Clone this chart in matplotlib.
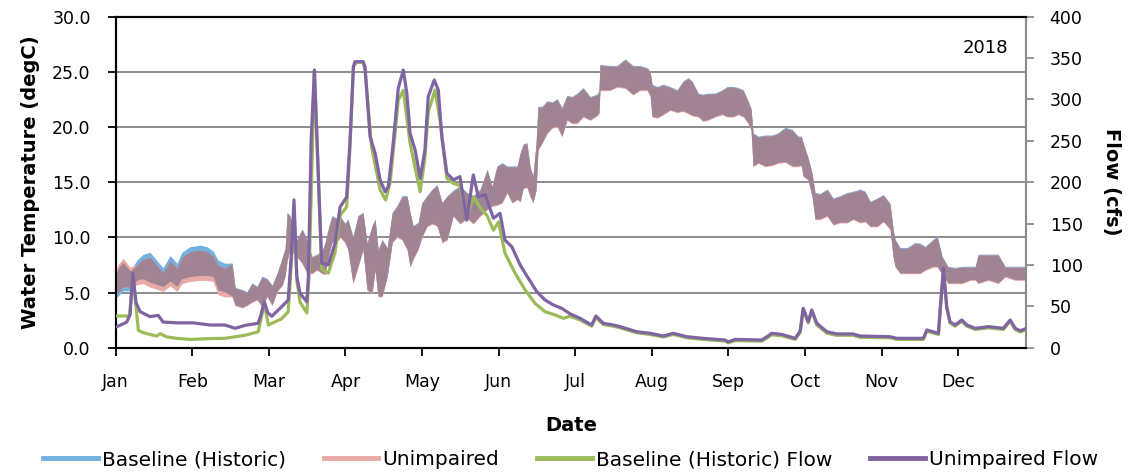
import numpy as np
import matplotlib
matplotlib.use("Agg")
import matplotlib.pyplot as plt
from matplotlib.lines import Line2D

# ---------------- data ----------------
months = ["Jan", "Feb", "Mar", "Apr", "May", "Jun", "Jul", "Aug", "Sep", "Oct", "Nov", "Dec"]
year_label = "2018"

# water temperature envelope (daily max / min of Unimpaired), day of year
temp_day = [0, 0.9, 2.9, 5.7, 8.5, 10.8, 13.6, 18.8, 21.6, 24.3,
            26.3, 29.5, 33.5, 36.3, 38.7, 40.6, 43.4, 46.2, 47.4, 50.2,
            52.1, 54.1, 56.1, 58.1, 60.1, 62.1, 64.1, 66.1, 67.3, 68.1,
            69.2, 72.0, 74.0, 76.0, 77.9, 79.9, 81.9, 83.1, 84.7, 85.9,
            88.3, 89.1, 91.0, 92.2, 94.2, 96.2, 98.2, 99.8, 101.8, 103.0,
            104.2, 105.8, 107.8, 109.8, 111.7, 113.7, 115.7, 116.9, 118.1, 120.1,
            121.6, 123.6, 125.6, 127.6, 129.6, 131.6, 134.0, 136.7, 139.5, 141.9,
            144.7, 147.5, 149.4, 151.4, 153.4, 155.4, 157.4, 159.4, 160.6, 161.8,
            163.3, 164.5, 165.7, 166.9, 167.7, 169.3, 171.3, 173.3, 175.3, 177.2,
            179.2, 181.2, 183.2, 185.6, 188.4, 191.1, 191.9, 192.3, 196.3, 199.1,
            202.3, 205.4, 208.2, 211.0, 212.2, 213.0, 215.0, 217.4, 220.1, 222.9,
            225.3, 227.3, 228.9, 231.3, 233.2, 235.2, 238.0, 240.8, 242.8, 245.2,
            247.2, 249.2, 251.1, 252.3, 253.1, 255.1, 257.9, 260.6, 263.0, 265.8,
            268.6, 271.0, 272.2, 273.0, 274.9, 276.5, 277.7, 279.7, 282.5, 284.9,
            287.6, 290.4, 292.8, 295.6, 297.6, 299.6, 302.4, 304.8, 307.5, 308.7,
            309.5, 311.5, 314.3, 317.4, 319.4, 321.4, 324.6, 326.2, 328.2, 330.5,
            333.3, 336.1, 339.3, 341.3, 342.5, 346.5, 350.4, 353.2, 357.2, 361.5]
temp_hi = [7.0, 7.5, 8.1, 7.3, 7.5, 8.0, 8.2, 6.8, 7.9, 7.2,
           8.2, 8.7, 8.85, 8.7, 8.3, 7.5, 7.2, 7.6, 5.4, 5.2,
           5.0, 5.8, 5.5, 6.4, 6.2, 5.6, 6.7, 8.1, 9.0, 12.2,
           11.9, 9.75, 10.7, 9.75, 8.2, 8.4, 8.7, 9.45, 11.0, 11.9,
           11.6, 11.9, 11.2, 11.6, 10.0, 11.9, 12.2, 9.45, 11.0, 11.6,
           8.85, 9.75, 9.0, 12.2, 12.8, 13.7, 13.7, 12.2, 11.0, 11.3,
           13.1, 13.7, 14.3, 14.7, 13.1, 13.7, 14.2, 14.6, 14.0, 13.7,
           14.3, 16.1, 14.6, 16.4, 16.7, 16.4, 16.4, 16.4, 17.6, 18.4,
           18.5, 16.4, 15.5, 18.4, 21.8, 21.8, 22.3, 22.2, 22.5, 21.7,
           22.8, 22.7, 23.0, 23.5, 22.7, 22.9, 23.2, 25.6, 25.5, 25.5,
           26.1, 25.5, 25.5, 25.3, 25.0, 23.8, 23.6, 23.8, 23.6, 23.3,
           24.1, 24.4, 24.1, 23.0, 22.9, 23.0, 23.0, 23.3, 23.6, 23.6,
           23.5, 23.3, 22.3, 21.6, 19.4, 19.1, 19.2, 19.2, 19.4, 19.9,
           19.7, 19.1, 19.1, 18.5, 17.2, 15.8, 14.0, 13.9, 14.3, 13.5,
           13.7, 14.0, 14.1, 14.3, 14.1, 13.2, 13.5, 13.8, 13.0, 10.7,
           9.75, 9.0, 9.0, 9.45, 9.4, 9.1, 9.75, 10.05, 8.2, 7.3,
           7.2, 7.3, 7.3, 7.3, 8.4, 8.4, 8.4, 7.3, 7.3, 7.3]
temp_lo = [4.9, 5.0, 5.5, 5.5, 5.7, 5.8, 5.5, 5.1, 5.6, 5.1,
           5.8, 6.0, 6.1, 6.1, 6.0, 4.8, 4.6, 4.6, 3.8, 3.6,
           3.8, 4.1, 4.3, 3.7, 4.6, 3.8, 5.1, 5.6, 6.5, 7.9,
           8.85, 8.2, 7.6, 6.7, 6.7, 7.0, 6.7, 6.6, 8.5, 9.5,
           9.7, 10.0, 9.5, 8.85, 5.8, 7.3, 8.85, 5.2, 4.9, 7.0,
           4.6, 4.6, 6.4, 9.5, 10.0, 9.75, 8.85, 7.3, 8.0, 8.9,
           10.0, 10.95, 11.2, 11.0, 9.5, 9.75, 11.9, 11.2, 11.7, 11.2,
           11.9, 12.5, 12.8, 12.9, 13.1, 14.0, 13.1, 13.4, 13.2, 14.4,
           14.5, 13.7, 13.1, 14.2, 17.9, 18.5, 19.4, 19.9, 20.0, 19.1,
           20.6, 20.3, 20.3, 20.9, 20.6, 21.0, 21.2, 23.3, 23.3, 23.6,
           23.5, 22.9, 23.3, 23.3, 22.8, 20.9, 20.8, 21.1, 21.5, 21.3,
           21.4, 21.2, 21.0, 20.9, 20.5, 20.6, 20.9, 21.1, 20.9, 20.9,
           21.1, 20.9, 20.3, 19.7, 16.4, 16.7, 16.4, 16.5, 16.7, 16.8,
           16.4, 16.4, 16.5, 15.5, 15.2, 13.7, 11.6, 11.6, 11.9, 11.1,
           11.3, 11.3, 11.6, 11.3, 11.4, 10.95, 10.95, 11.4, 10.7, 8.2,
           7.3, 6.7, 6.7, 6.7, 6.7, 7.0, 7.3, 7.3, 6.6, 5.8,
           5.8, 5.8, 6.1, 6.1, 5.8, 6.1, 5.8, 6.4, 6.1, 6.1]
# Baseline minus Unimpaired temperature offset by season (day breaks)
base_offset_breaks = [6, 46]
base_offset_vals = [-0.35, 0.45, 0.08]

# Unimpaired flow (cfs)
unimp_flow_day = [0, 1.7, 4.4, 5.7, 6.8, 8.1, 9.7, 13.6, 16.9, 18.8,
                  24.2, 30.7, 37.5, 43.4, 47.4, 51.4, 56.6, 57.7, 59.0, 60.4,
                  62.0, 65.9, 68.5, 69.9, 70.8, 71.9, 73.2, 75.9, 76.5, 77.6,
                  78.9, 80.5, 81.8, 84.4, 87.1, 89.1, 91.7, 93.0, 94.4, 95.0,
                  98.3, 99.0, 101.0, 103.0, 105.0, 107.0, 108.3, 110.2, 112.2, 114.2,
                  115.6, 116.9, 118.9, 120.9, 122.8, 124.1, 126.5, 128.1, 129.5, 131.5,
                  134.1, 136.7, 139.4, 142.0, 144.0, 146.7, 150.0, 152.6, 154.6, 157.3,
                  160.6, 162.6, 167.2, 170.5, 173.8, 177.1, 180.4, 184.4, 189.0, 190.7,
                  193.6, 197.6, 200.3, 206.9, 212.2, 217.5, 221.4, 226.8, 233.2, 242.0,
                  243.2, 246.0, 256.6, 259.0, 260.5, 264.5, 269.8, 271.8, 273.0, 275.0,
                  276.4, 278.4, 282.4, 286.3, 292.8, 295.6, 307.5, 310.2, 320.7, 322.1,
                  324.2, 326.7, 327.5, 328.7, 330.0, 331.3, 333.3, 336.0, 338.0, 341.3,
                  346.6, 352.5, 355.2, 357.2, 359.2, 361.8]
unimp_flow = [25, 27, 31, 40, 90, 54, 43.5, 37.5, 39, 31,
              30, 30, 27.4, 27.4, 23.4, 27, 29.5, 40, 55.6, 42,
              38, 49.5, 57.6, 120, 178.5, 85.8, 65.7, 55.6, 85, 250,
              335.6, 206.6, 102, 100, 126, 170, 182, 247, 339.6, 345.6,
              345.6, 339.6, 255, 235, 202.7, 188.5, 195, 247, 313.5, 335.6,
              307.4, 259, 239, 204.7, 239, 303.4, 323.5, 311.4, 255, 210.8,
              202.7, 206.7, 154, 208.7, 182.5, 185, 156.4, 162.4, 130, 122,
              100, 90, 67.7, 57.6, 51.6, 47.6, 41, 35.5, 27.4, 38.3,
              29.5, 27.4, 25.4, 19.3, 17.4, 14.1, 17.4, 13.3, 11.3, 9.3,
              7, 10, 9.3, 14, 17.4, 16, 11.3, 20, 47.6, 31.4,
              45.6, 29.5, 19.3, 16.6, 16.6, 14.1, 13.3, 11.3, 11.3, 21.4,
              19.5, 17.4, 50, 96, 49.5, 31.4, 27.4, 33.5, 27.4, 23.4,
              25.4, 23.4, 33.5, 23.4, 20.5, 23.4]

# Baseline (Historic) flow (cfs)
base_flow_day = [0, 5.5, 6.8, 9.0, 11.0, 16.3, 17.6, 20.3, 24.2, 29.5,
                 37.5, 43.4, 51.4, 56.6, 59.0, 60.6, 65.9, 68.5, 69.9, 70.8,
                 72.0, 73.2, 75.9, 76.8, 78.9, 80.5, 81.8, 84.4, 87.1, 89.1,
                 91.7, 93.0, 94.4, 95.7, 98.3, 99.0, 101.6, 105.0, 107.2, 109.0,
                 112.2, 114.2, 116.9, 120.9, 122.8, 124.1, 126.8, 128.8, 131.5, 134.1,
                 136.7, 139.4, 142.0, 145.4, 147.4, 150.0, 152.0, 154.6, 158.6, 162.6,
                 166.5, 170.5, 174.5, 177.8, 180.4, 184.4, 189.0, 190.7, 193.6, 197.6,
                 200.3, 206.9, 212.2, 217.5, 221.4, 226.8, 233.2, 242.0, 243.2, 246.0,
                 256.6, 259.0, 260.5, 264.5, 269.8, 271.8, 273.0, 275.0, 276.4, 278.4,
                 282.4, 286.3, 292.8, 295.6, 307.5, 310.2, 320.7, 322.1, 324.2, 326.7,
                 327.5, 328.7, 330.0, 331.3, 333.3, 336.0, 338.0, 341.3, 346.6, 352.5,
                 355.2, 357.2, 359.2, 361.8]
base_flow = [38.3, 38.3, 88, 21, 18, 14, 17, 13, 11.3, 10,
             11, 11.3, 15, 19.3, 53.6, 27.4, 35, 43.5, 110, 170,
             80, 55, 42, 90, 335, 200, 95, 90, 115, 160,
             170, 240, 340, 345, 345, 335, 243, 190.6, 178.5, 200,
             299, 311, 247, 188.5, 230, 285, 311.4, 275, 204.7, 198.6,
             196, 158, 182.5, 166.4, 160, 142, 152, 114, 90, 69.7,
             53.6, 43.5, 39.5, 35.5, 38, 33.5, 26, 36.5, 28, 26,
             24, 18, 16, 13, 16, 12, 10, 8, 6, 8.5,
             8, 12.5, 15.5, 14.5, 10, 18.5, 46, 30, 44, 27.5,
             17.5, 15, 15, 12.5, 12, 10, 10, 20, 18, 16,
             48, 94, 48, 30, 26, 32, 26, 22, 24, 22,
             32, 22, 19, 22]

assert len(temp_day) == len(temp_hi) == len(temp_lo)
assert len(unimp_flow_day) == len(unimp_flow)
assert len(base_flow_day) == len(base_flow)

# ---------------- styling ----------------
c_blue = "#72B1E0"
c_pink = "#E9A9A5"
c_mauve = "#A08494"
c_green = "#9BBB59"
c_purple = "#8064A2"
grid_c = "#8C8C8C"

plt.rcParams["font.family"] = ["DejaVu Sans"]

fig = plt.figure(figsize=(11.3, 4.74), dpi=100)
ax = fig.add_axes([0.1024, 0.2665, 0.8056, 0.6983])

td = np.array(temp_day)
u_hi = np.array(temp_hi)
u_lo = np.array(temp_lo)
off = np.array(base_offset_vals)[np.searchsorted(base_offset_breaks, td)]
b_hi = u_hi + off
b_lo = u_lo + off

ax.fill_between(td, b_lo, b_hi, color=c_blue, lw=0, zorder=2)
ax.fill_between(td, u_lo, u_hi, color=c_pink, lw=0, zorder=3)
ax.fill_between(td, np.maximum(b_lo, u_lo), np.minimum(b_hi, u_hi),
                color=c_mauve, lw=0, zorder=4)

ax.set_ylim(0, 30)
ax.set_yticks(np.arange(0, 31, 5))
ax.set_yticklabels([f"{v:.1f}" for v in np.arange(0, 31, 5)])
ax.set_xlim(0, 361.5)
ax.set_xticks([i * 365 / 12 for i in range(12)])
ax.set_xticklabels(months)
ax.grid(axis="y", color=grid_c, lw=1.4, zorder=0)
ax.set_axisbelow(True)

ax2 = ax.twinx()
ax2.plot(base_flow_day, base_flow, color=c_green, lw=2.3, zorder=5, solid_joinstyle="round")
ax2.plot(unimp_flow_day, unimp_flow, color=c_purple, lw=2.3, zorder=6, solid_joinstyle="round")
ax2.set_ylim(0, 400)
ax2.set_yticks(np.arange(0, 401, 50))
ax2.set_xlim(0, 361.5)

for a in (ax, ax2):
    for s in a.spines.values():
        s.set_linewidth(1.5)
        s.set_color("black")
ax2.spines["right"].set_color(grid_c)
ax.spines["right"].set_color(grid_c)

ax.tick_params(axis="y", direction="out", length=6, width=1.3, labelsize=12.5, pad=12)
ax.tick_params(axis="x", direction="out", length=6, width=1.3, labelsize=12.5, pad=12)
ax2.tick_params(axis="y", direction="out", length=6, width=1.3, color=grid_c, labelsize=12.5, pad=11)

ax.set_ylabel("Water Temperature (degC)", fontsize=14, fontweight="bold")
ax.yaxis.set_label_coords(-0.083, 0.5)
ax2.set_ylabel("Flow (cfs)", fontsize=14, fontweight="bold", rotation=270, va="bottom")
ax2.yaxis.set_label_coords(1.083, 0.5)
ax.set_xlabel("Date", fontsize=14, fontweight="bold")
ax.xaxis.set_label_coords(0.5, -0.205)

ax.text(0.98, 0.905, year_label, transform=ax.transAxes, ha="right", va="center", fontsize=13)

handles = [Line2D([], [], color=c_blue, lw=3.5),
           Line2D([], [], color=c_pink, lw=3.5),
           Line2D([], [], color=c_green, lw=3.5),
           Line2D([], [], color=c_purple, lw=3.5)]
labels = ["Baseline (Historic)", "Unimpaired", "Baseline (Historic) Flow", "Unimpaired Flow"]
fig.legend(handles, labels, loc="center", bbox_to_anchor=(0.505, 0.03), ncol=4, frameon=False,
           fontsize=14.5, handlelength=2.7, handletextpad=0.2, columnspacing=1.9)

fig.savefig("out.png", dpi=100)
